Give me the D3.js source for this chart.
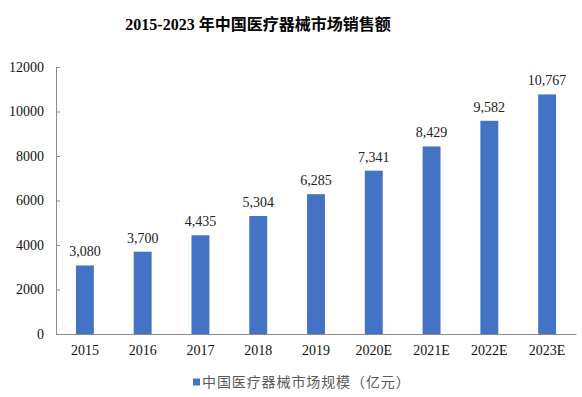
<!DOCTYPE html>
<html>
<head>
<meta charset="utf-8">
<script src="https://cdn.jsdelivr.net/npm/d3@7"></script>
<style>
  body { margin: 0; background: #fff; }
  svg { display: block; }
</style>
</head>
<body>
<svg id="chart"></svg>
<script>
const width = 582
const height = 397

// data
const years = ['2015', '2016', '2017', '2018', '2019', '2020E', '2021E', '2022E', '2023E']
const sales = [3080, 3700, 4435, 5304, 6285, 7341, 8429, 9582, 10767]
const yTicks = [0, 2000, 4000, 6000, 8000, 10000, 12000]
const seriesName = '中国医疗器械市场规模（亿元）'
const title = '2015-2023 年中国医疗器械市场销售额'

const serif = '"Liberation Serif", "Times New Roman", "Noto Sans CJK SC", serif'

const svg = d3.select('#chart').attr('width', width).attr('height', height)

const x = d3.scaleBand().domain(years).range([56, 576]).paddingInner(0.69).paddingOuter(0.345)
const y = d3.scaleLinear().domain([0, 12000]).range([334, 67])

// title
svg.append('text')
  .attr('x', 258)
  .attr('y', 30)
  .attr('text-anchor', 'middle')
  .attr('font-family', serif)
  .attr('font-weight', 'bold')
  .attr('font-size', 16)
  .attr('fill', '#000')
  .text(title)

// y axis
const yAxis = svg.append('g')
  .attr('transform', 'translate(56,0)')
  .call(d3.axisLeft(y).tickValues(yTicks).tickSize(-4).tickPadding(12).tickFormat(d3.format('d')))
yAxis.select('.domain').attr('stroke', '#8c8c8c')
yAxis.selectAll('.tick line').attr('stroke', '#8c8c8c')
yAxis.selectAll('text')
  .style('font-family', serif)
  .attr('font-size', 14)
  .attr('fill', '#111')

// x axis
const xAxis = svg.append('g')
  .attr('transform', 'translate(0,334)')
  .call(d3.axisBottom(x).tickSize(0).tickPadding(11))
xAxis.select('.domain').attr('stroke', '#8c8c8c')
xAxis.selectAll('text')
  .style('font-family', serif)
  .attr('font-size', 14)
  .attr('fill', '#111')

// bars
svg.append('g')
  .selectAll('rect')
  .data(years)
  .join('rect')
  .attr('x', (d) => x(d))
  .attr('y', (d, i) => y(sales[i]))
  .attr('width', x.bandwidth())
  .attr('height', (d, i) => y(0) - y(sales[i]))
  .attr('fill', '#4472c4')

// value labels
svg.append('g')
  .selectAll('text')
  .data(years)
  .join('text')
  .attr('x', (d) => x(d) + x.bandwidth() / 2)
  .attr('y', (d, i) => y(sales[i]) - 9)
  .attr('text-anchor', 'middle')
  .style('font-family', serif)
  .attr('font-size', 14)
  .attr('fill', '#222')
  .text((d, i) => d3.format(',')(sales[i]))

// legend
const legend = svg.append('g').attr('transform', 'translate(193,382)')
legend.append('rect')
  .attr('x', 0)
  .attr('y', -3.5)
  .attr('width', 7)
  .attr('height', 7)
  .attr('fill', '#4472c4')
legend.append('text')
  .attr('x', 9)
  .attr('y', 5)
  .attr('font-family', '"Noto Sans CJK SC", sans-serif')
  .attr('font-size', 14)
  .attr('letter-spacing', 0.9)
  .attr('fill', '#595959')
  .text(seriesName)
</script>
</body>
</html>
